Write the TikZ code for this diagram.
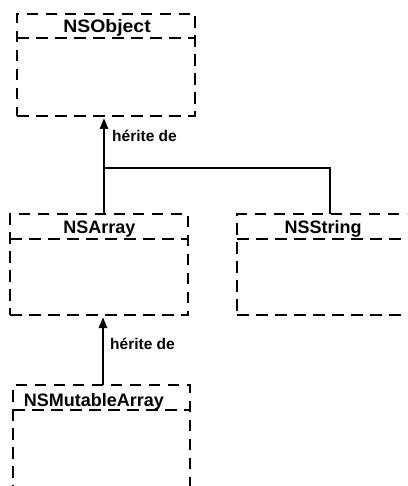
\documentclass[tikz,border=0pt]{standalone}
\usepackage{fontspec}
\setmainfont{Liberation Sans}
\usetikzlibrary{arrows.meta}
\begin{document}
\begin{tikzpicture}[x=1pt,y=-1pt,
  classbox/.style={draw, line width=2.6pt, dash pattern=on 11.5pt off 7.5pt,
    rectangle, inner sep=0pt, outer sep=0pt},
  divider/.style={line width=2.6pt, dash pattern=on 11.5pt off 7.5pt},
  classname/.style={anchor=base, inner sep=0pt,
    font=\fontsize{18}{20}\selectfont\bfseries},
  inherit/.style={line width=2.5pt, -{Triangle[width=8pt,length=11pt]}},
  link/.style={line width=2.5pt},
  inheritlabel/.style={anchor=base west, inner sep=0pt,
    font=\fontsize{15.5}{18}\selectfont\bfseries}]
\useasboundingbox (0,0) rectangle (407,486);
\clip (0,0) rectangle (407,486);

% class boxes
\node[classbox, minimum width=178pt, minimum height=102pt] (obj) at (106,65) {};
\node[classbox, minimum width=178pt, minimum height=101pt] (arr) at (99,264.5) {};
\node[classbox, minimum width=173pt, minimum height=101pt] (str) at (323.5,264.5) {};
\node[classbox, minimum width=177pt, minimum height=135pt] (mut) at (101.5,452.5) {};

% header dividers
\draw[divider] ([yshift=-24pt]obj.north west) -- ([yshift=-24pt]obj.north east);
\draw[divider] ([yshift=-25pt]arr.north west) -- ([yshift=-25pt]arr.north east);
\draw[divider] ([yshift=-25pt]str.north west) -- ([yshift=-25pt]str.north east);
\draw[divider] ([yshift=-25pt]mut.north west) -- ([yshift=-25pt]mut.north east);

% class names
\node[classname] (objname) at (107,33) {\scalebox{1.08}[1]{NSObject}};
\node[classname] (arrname) at (99.5,233) {NSArray};
\node[classname] (strname) at (323,233) {NSString};
\node[classname] (mutname) at (94,406) {NSMutableArray};

% inheritance links
\coordinate (arrtop) at ([xshift=5pt]arr.north);
\coordinate (strtop) at ([xshift=6.5pt]str.north);
\coordinate (junction) at (104,168);
\draw[link] (junction) -| (strtop);
\draw[inherit, shorten >=2pt] (arrtop) -- (arrtop |- obj.south);
\coordinate (mutop) at ([xshift=1.5pt]mut.north);
\draw[inherit, shorten >=2pt] (mutop) -- (mutop |- arr.south);

% labels
\node[inheritlabel] (lbl1) at (112,142) {hérite de};
\node[inheritlabel] (lbl2) at (110,349) {hérite de};
\end{tikzpicture}
\end{document}
